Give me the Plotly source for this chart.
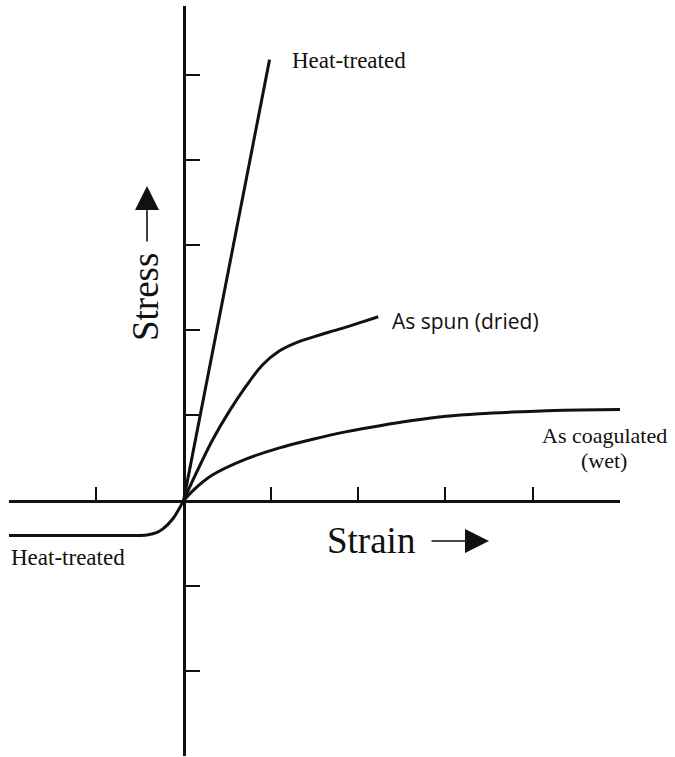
import plotly.graph_objects as go

# ---- data ----
x_ticks = [-2, -1, 1, 2, 3, 4, 5]
y_ticks = [-3, -2, -1, 1, 2, 3, 4, 5]

heat_x = [0, 0.985]
heat_y = [0, 5.18]

spun_x = [0, 0.12, 0.33, 0.53, 0.72, 0.90, 1.10, 1.30, 1.48, 1.67, 1.87, 2.05, 2.23]
spun_y = [0, 0.27, 0.71, 1.06, 1.35, 1.59, 1.76, 1.86, 1.92, 1.98, 2.04, 2.10, 2.16]

coag_x = [0, 0.12, 0.33, 0.72, 1.10, 1.48, 1.87, 2.25, 2.62, 3.01, 3.39, 3.77, 4.16, 4.54, 5.02]
coag_y = [0, 0.13, 0.30, 0.49, 0.62, 0.72, 0.81, 0.88, 0.94, 0.99, 1.02, 1.04, 1.055, 1.065, 1.07]

heatneg_x = [-2, -1.0, -0.55, -0.42, -0.32, -0.24, -0.12, 0]
heatneg_y = [-0.41, -0.41, -0.41, -0.403, -0.38, -0.335, -0.21, 0]

W, H = 675, 757
INK = "#111111"
SERIF = "Liberation Serif, Times New Roman, serif"

fig = go.Figure()
line = dict(color=INK, width=3)
fig.add_trace(go.Scatter(x=heat_x, y=heat_y, mode="lines", line=line))
fig.add_trace(go.Scatter(x=spun_x, y=spun_y, mode="lines", line=dict(line, shape="spline", smoothing=0.8)))
fig.add_trace(go.Scatter(x=coag_x, y=coag_y, mode="lines", line=dict(line, shape="spline", smoothing=0.8)))
fig.add_trace(go.Scatter(x=heatneg_x, y=heatneg_y, mode="lines", line=dict(line, shape="spline", smoothing=0.8)))

x_lo, x_hi = -2, 5
y_lo, y_hi = -3, 5.81
px_left, px_right = 9, 620
py_top, py_bot = 6, 756
sx = (px_right - px_left) / (x_hi - x_lo)
sy = (py_bot - py_top) / (y_hi - y_lo)
origin_px = px_left + (0 - x_lo) * sx
origin_py = py_top + (y_hi - 0) * sy

fig.update_layout(
    width=W, height=H,
    margin=dict(l=0, r=0, t=0, b=0),
    paper_bgcolor="white", plot_bgcolor="white",
    showlegend=False,
    xaxis=dict(range=[x_lo, x_hi], domain=[px_left / W, px_right / W],
               anchor="free", position=(H - origin_py) / H,
               showline=True, linecolor=INK, linewidth=2.5,
               ticks="inside", ticklen=13, tickwidth=2, tickcolor=INK,
               tickvals=x_ticks, showticklabels=False,
               showgrid=False, zeroline=False),
    yaxis=dict(range=[y_lo, y_hi], domain=[(H - py_bot) / H, (H - py_top) / H],
               anchor="free", position=origin_px / W,
               showline=True, linecolor=INK, linewidth=2.5,
               ticks="inside", ticklen=15, tickwidth=2, tickcolor=INK,
               tickvals=y_ticks, showticklabels=False,
               showgrid=False, zeroline=False),
)

def px2x(p):
    return x_lo + (p - px_left) / sx

def py2y(p):
    return y_hi - (p - py_top) / sy

def lab(text, x, y, size=22, xanchor="left", font=SERIF, angle=0):
    fig.add_annotation(text=text, x=x, y=y, xref="x", yref="y", showarrow=False,
                       xanchor=xanchor, yanchor="middle", textangle=angle,
                       font=dict(family=font, size=size, color=INK))

lab("Heat-treated", px2x(290), py2y(60), size=23)
lab("As spun (dried)", px2x(390), py2y(321), size=21, font="Open Sans, sans-serif")
lab("As coagulated", px2x(604), py2y(435), size=22, xanchor="center")
lab("(wet)", px2x(604), py2y(460), size=22, xanchor="center")
lab("Heat-treated", x_lo, py2y(557), size=23)
lab("Strain", px2x(325), py2y(540), size=37)
lab("Stress", px2x(145), py2y(297), size=37, xanchor="center", angle=-90)

# arrows next to axis titles
fig.add_annotation(x=px2x(489), y=py2y(541), ax=px2x(430), ay=py2y(541),
                   xref="x", yref="y", axref="x", ayref="y", text="",
                   showarrow=True, arrowhead=2, arrowsize=3, arrowwidth=1.6, arrowcolor=INK)
fig.add_annotation(x=px2x(147), y=py2y(186), ax=px2x(147), ay=py2y(243),
                   xref="x", yref="y", axref="x", ayref="y", text="",
                   showarrow=True, arrowhead=2, arrowsize=3, arrowwidth=1.6, arrowcolor=INK)

fig.write_html("out.html", config={"displayModeBar": False},
               post_script="document.body.style.margin='0';")
